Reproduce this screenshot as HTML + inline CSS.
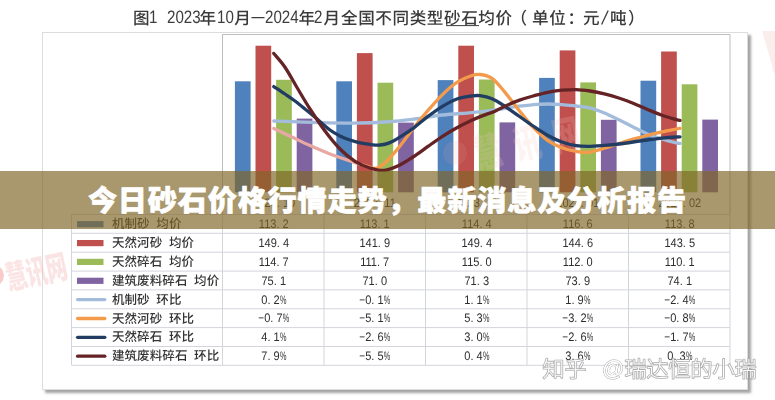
<!DOCTYPE html>
<html lang="zh-CN">
<head>
<meta charset="utf-8">
<title>今日砂石价格行情走势，最新消息及分析报告</title>
<style>
html,body{margin:0;padding:0;background:#fff}
body{width:775px;height:400px;position:relative;overflow:hidden;font-family:"Liberation Sans",sans-serif;text-rendering:geometricPrecision;-webkit-font-smoothing:antialiased}
#frame{position:absolute;left:41.5px;top:32px;width:704px;height:355.5px;border:1px solid #dddddd;background:#fff;box-shadow:2.5px 2.5px 2.5px rgba(0,0,0,.36)}
svg{position:absolute;left:0;top:0;overflow:hidden}
svg text{font-family:"Liberation Sans","Noto Sans CJK SC",sans-serif}
#under{position:absolute;left:0;top:0;width:775px;height:400px;filter:blur(.42px)}
.n{position:absolute;width:101.5px;height:18px;line-height:18px;text-align:center;font-size:12.4px;color:#2e2e2e;white-space:pre;transform:scaleX(.89)}
.t{position:absolute;top:6.8px;height:20px;line-height:20px;font-size:18px;color:#3d3d3d;white-space:pre;transform-origin:0 0;transform:scaleX(.84)}
.n i{display:inline-block;font-style:normal}.p{transform:scaleX(.66);margin:0 -1.9px}.m{transform:scaleX(.9);margin:0 -.4px}
#band{position:absolute;left:0;top:171px;width:775px;height:57.5px;background:rgba(128,101,40,.68)}
#at{position:absolute;left:602px;top:357px;font-size:22px;line-height:24px;color:#fff;-webkit-text-stroke:.9px rgba(138,138,138,.75);paint-order:stroke fill;filter:blur(.35px)}
</style>
</head>
<body>
<div id="under">
<div id="frame"></div>
<svg width="775" height="400" viewBox="0 0 775 400">
<defs>
<filter id="sb" x="-5%" y="-20%" width="110%" height="140%"><feGaussianBlur stdDeviation=".45"/></filter>
<linearGradient id="og" gradientUnits="userSpaceOnUse" x1="273" y1="0" x2="680" y2="0"><stop offset="0" stop-color="#e7a8a6"/><stop offset=".2" stop-color="#e9a79f"/><stop offset=".26" stop-color="#f39b4b"/><stop offset="1" stop-color="#f39b4b"/></linearGradient>
</defs>
<path d="M222.5 214.5V34.5H730.0V214.5" fill="none" stroke="#bdbdbd" stroke-width="1"/>
<rect x="234.9" y="81.3" width="15.7" height="111.0" fill="#4f81bd"/>
<rect x="255.5" y="45.7" width="15.7" height="146.6" fill="#c0504d"/>
<rect x="276.1" y="79.8" width="15.7" height="112.5" fill="#9bbb59"/>
<rect x="296.7" y="118.6" width="15.7" height="73.7" fill="#8064a2"/>
<rect x="336.3" y="81.3" width="15.7" height="111.0" fill="#4f81bd"/>
<rect x="356.9" y="53.1" width="15.7" height="139.2" fill="#c0504d"/>
<rect x="377.5" y="82.7" width="15.7" height="109.6" fill="#9bbb59"/>
<rect x="398.1" y="122.6" width="15.7" height="69.7" fill="#8064a2"/>
<rect x="437.7" y="80.1" width="15.7" height="112.2" fill="#4f81bd"/>
<rect x="458.3" y="45.7" width="15.7" height="146.6" fill="#c0504d"/>
<rect x="478.9" y="79.5" width="15.7" height="112.8" fill="#9bbb59"/>
<rect x="499.5" y="122.4" width="15.7" height="69.9" fill="#8064a2"/>
<rect x="539.1" y="77.9" width="15.7" height="114.4" fill="#4f81bd"/>
<rect x="559.7" y="50.4" width="15.7" height="141.9" fill="#c0504d"/>
<rect x="580.3" y="82.4" width="15.7" height="109.9" fill="#9bbb59"/>
<rect x="600.9" y="119.8" width="15.7" height="72.5" fill="#8064a2"/>
<rect x="640.5" y="80.7" width="15.7" height="111.6" fill="#4f81bd"/>
<rect x="661.1" y="51.5" width="15.7" height="140.8" fill="#c0504d"/>
<rect x="681.7" y="84.3" width="15.7" height="108.0" fill="#9bbb59"/>
<rect x="702.3" y="119.6" width="15.7" height="72.7" fill="#8064a2"/>
<g fill="#f7c6c6" transform="translate(478 169) rotate(-12.5) scale(1 1.45)" opacity=".2"><text x="0 40 80" y="0" font-size="27" font-weight="900">慧讯网</text></g>
<circle cx="455" cy="153" r="12" fill="#f4a8a8" opacity=".12"/>
<path d="M273.8 121.0C281.5 121.3 305.6 122.3 320.0 122.6C334.4 122.9 349.2 123.1 360.0 123.0C370.8 122.9 376.0 122.6 385.0 122.0C394.0 121.4 404.2 120.4 413.8 119.2C423.3 118.0 432.9 116.1 442.5 115.0C452.1 113.9 463.1 113.4 471.3 112.6C479.6 111.8 484.1 111.4 492.0 110.3C499.9 109.2 511.9 107.1 518.8 106.2C525.6 105.3 528.3 105.1 533.1 104.7C537.9 104.3 542.7 104.0 547.5 104.0C552.3 104.0 557.1 104.3 561.9 104.6C566.7 104.9 571.6 105.5 576.2 106.0C580.9 106.5 585.3 106.6 590.0 107.8C594.7 109.0 599.6 111.0 604.4 113.0C609.2 115.0 614.0 117.5 618.8 119.8C623.5 122.1 628.3 124.6 633.1 127.0C637.9 129.4 642.7 132.0 647.5 134.0C652.3 136.0 657.1 137.5 661.9 139.0C666.7 140.5 673.2 142.1 676.2 142.8C679.3 143.5 679.4 143.3 680.0 143.4" fill="none" stroke="#a3bcdc" stroke-width="3.3" stroke-linecap="round" stroke-linejoin="round"/>
<path d="M273.8 128.4C276.8 129.8 286.0 134.1 292.0 137.0C298.0 139.9 303.7 142.8 310.0 145.6C316.3 148.4 323.3 151.4 330.0 154.0C336.7 156.6 343.7 158.9 350.0 161.0C356.3 163.1 363.6 165.4 368.0 166.6C372.4 167.8 373.8 168.7 376.5 168.2C379.2 167.7 381.6 165.7 384.0 163.8C386.4 161.9 388.4 159.4 391.0 156.6C393.6 153.8 395.6 151.6 399.4 146.8C403.2 142.0 409.0 133.9 413.8 127.8C418.5 121.7 423.2 115.9 428.0 110.4C432.8 104.9 437.7 99.3 442.5 94.6C447.3 89.9 452.1 85.5 456.9 82.4C461.7 79.3 467.4 77.1 471.3 75.8C475.2 74.5 476.6 74.1 480.0 74.5C483.4 74.9 487.9 75.6 492.0 78.4C496.1 81.2 499.9 86.3 504.4 91.6C508.9 96.9 514.0 104.1 518.8 110.0C523.5 115.9 528.3 122.2 533.1 127.2C537.9 132.2 542.7 136.9 547.5 140.3C552.3 143.7 557.1 145.8 561.9 147.7C566.7 149.5 571.9 150.6 576.2 151.4C580.6 152.2 583.3 152.9 588.0 152.4C592.7 151.9 599.3 149.7 604.4 148.2C609.5 146.7 614.0 145.1 618.8 143.6C623.5 142.1 628.3 140.6 633.1 139.2C637.9 137.8 642.7 136.5 647.5 135.3C652.3 134.1 657.1 133.0 661.9 131.9C666.7 130.8 673.2 129.6 676.2 129.0C679.3 128.4 679.4 128.5 680.0 128.4" fill="none" stroke="url(#og)" stroke-width="3.3" stroke-linecap="round" stroke-linejoin="round"/>
<path d="M273.8 86.6C275.6 87.8 281.5 91.6 285.0 94.0C288.5 96.4 291.7 98.5 295.0 101.0C298.3 103.5 301.7 106.3 305.0 109.0C308.3 111.7 310.8 113.7 315.0 117.2C319.2 120.7 325.8 126.9 330.0 130.0C334.2 133.1 336.7 134.3 340.0 136.0C343.3 137.7 346.7 138.9 350.0 140.0C353.3 141.1 356.7 142.1 360.0 142.8C363.3 143.5 366.7 144.0 370.0 144.4C373.3 144.8 376.7 145.3 380.0 145.0C383.3 144.7 386.8 143.9 390.0 142.6C393.2 141.3 395.4 139.9 399.4 137.4C403.4 134.9 409.0 131.3 413.8 127.8C418.5 124.3 423.2 120.0 428.0 116.4C432.8 112.8 437.7 109.2 442.5 106.3C447.3 103.4 452.1 100.7 456.9 99.0C461.7 97.3 467.4 96.5 471.3 96.0C475.2 95.5 476.6 95.2 480.0 95.7C483.4 96.2 487.9 97.1 492.0 98.8C496.1 100.5 499.9 103.1 504.4 106.0C508.9 108.9 514.0 112.7 518.8 116.0C523.5 119.3 528.3 122.8 533.1 126.0C537.9 129.2 542.7 132.5 547.5 135.2C552.3 137.9 557.1 140.2 561.9 142.0C566.7 143.8 571.9 145.0 576.2 145.7C580.6 146.4 583.3 146.4 588.0 146.4C592.7 146.4 599.3 145.8 604.4 145.4C609.5 145.0 614.0 144.6 618.8 144.0C623.5 143.4 628.3 142.7 633.1 142.0C637.9 141.3 642.7 140.6 647.5 140.0C652.3 139.4 657.1 138.7 661.9 138.2C666.7 137.7 673.2 137.2 676.2 137.0C679.3 136.8 679.4 136.8 680.0 136.8" fill="none" stroke="#213d63" stroke-width="3.3" stroke-linecap="round" stroke-linejoin="round"/>
<path d="M273.8 53.4C275.6 55.7 281.1 61.5 285.0 67.2C288.9 72.9 292.8 80.5 297.0 87.5C301.2 94.5 305.3 101.8 310.0 109.0C314.7 116.2 320.0 124.3 325.0 131.0C330.0 137.7 335.0 143.9 340.0 149.0C345.0 154.1 350.0 158.1 355.0 161.3C360.0 164.5 365.2 166.5 370.0 168.0C374.8 169.5 379.1 170.9 384.0 170.4C388.9 169.9 394.4 167.5 399.4 165.2C404.4 162.9 409.0 159.6 413.8 156.5C418.5 153.4 423.2 149.8 428.0 146.4C432.8 143.0 437.7 139.4 442.5 136.3C447.3 133.2 452.1 130.3 456.9 127.7C461.7 125.0 466.5 122.6 471.3 120.4C476.1 118.2 481.7 116.1 485.6 114.6C489.6 113.1 491.9 112.6 495.0 111.2C498.1 109.8 500.4 108.2 504.4 106.4C508.4 104.6 514.0 102.1 518.8 100.4C523.5 98.7 528.3 97.3 533.1 96.0C537.9 94.7 542.7 93.3 547.5 92.3C552.3 91.3 557.1 90.7 561.9 90.2C566.7 89.8 571.6 89.5 576.2 89.6C580.9 89.7 585.3 90.3 590.0 91.0C594.7 91.7 599.6 92.7 604.4 93.9C609.2 95.1 614.0 96.5 618.8 98.0C623.5 99.5 628.3 101.3 633.1 103.2C637.9 105.1 642.7 107.4 647.5 109.4C652.3 111.4 657.1 113.5 661.9 115.2C666.7 116.9 673.2 118.7 676.2 119.6C679.3 120.5 679.4 120.3 680.0 120.4" fill="none" stroke="#652325" stroke-width="3.3" stroke-linecap="round" stroke-linejoin="round"/>
<path d="M71.5 214.5H730.0M71.5 233.3H730.0M71.5 252.2H730.0M71.5 271.1H730.0M71.5 289.9H730.0M71.5 308.8H730.0M71.5 327.6H730.0M71.5 346.5H730.0M71.5 365.3H730.0M71.5 214.5V365.3M222.5 214.5V365.3M324.0 196.7V365.3M425.5 196.7V365.3M527.0 196.7V365.3M628.5 196.7V365.3M730.0 214.5V365.3" fill="none" stroke="#d3d5dc" stroke-width="1"/>
<rect x="77" y="221.1" width="26.5" height="6.2" fill="#4f81bd"/>
<text fill="#333" font-size="12.5" font-weight="500" y="228.33" x="111.9 124.5 137.1 156.3 168.9">机制砂均价</text>
<rect x="77" y="240.0" width="26.5" height="6.2" fill="#c0504d"/>
<text fill="#333" font-size="12.5" font-weight="500" y="247.18" x="111.9 124.5 137.1 149.7 168.9 181.5">天然河砂均价</text>
<rect x="77" y="258.8" width="26.5" height="6.2" fill="#9bbb59"/>
<text fill="#333" font-size="12.5" font-weight="500" y="266.03" x="111.9 124.5 137.1 149.7 168.9 181.5">天然碎石均价</text>
<rect x="77" y="277.7" width="26.5" height="6.2" fill="#8064a2"/>
<text fill="#333" font-size="12.5" font-weight="500" y="284.88" x="111.9 124.5 137.1 149.7 162.3 174.9 194.1 206.7">建筑废料碎石均价</text>
<path d="M77.6 299.6H104.8" stroke="#a3bcdc" stroke-width="3.3" stroke-linecap="round"/>
<text fill="#333" font-size="12.5" font-weight="500" y="303.73" x="111.9 124.5 137.1 156.3 168.9">机制砂环比</text>
<path d="M77.6 318.5H104.8" stroke="#f39b4b" stroke-width="3.3" stroke-linecap="round"/>
<text fill="#333" font-size="12.5" font-weight="500" y="322.58" x="111.9 124.5 137.1 149.7 168.9 181.5">天然河砂环比</text>
<path d="M77.6 337.3H104.8" stroke="#213d63" stroke-width="3.3" stroke-linecap="round"/>
<text fill="#333" font-size="12.5" font-weight="500" y="341.43" x="111.9 124.5 137.1 149.7 168.9 181.5">天然碎石环比</text>
<path d="M77.6 356.2H104.8" stroke="#652325" stroke-width="3.3" stroke-linecap="round"/>
<text fill="#333" font-size="12.5" font-weight="500" y="360.28" x="111.9 124.5 137.1 149.7 162.3 174.9 194.1 206.7">建筑废料碎石环比</text>
<g fill="#3a3a3a" font-size="16.6" font-weight="500">
<text x="133" y="23.6">图</text>
<text x="199.6" y="23.6">年</text>
<text x="234.2" y="23.6">月</text>
<text x="298.4" y="23.6">年</text>
<text x="323.6" y="23.6">月</text>
<text y="23.6" x="341 358.17 375.34 392.51 409.68 426.85 444.02 461.19 478.36 495.53">全国不同类型砂石均价</text>
<text x="510.5" y="23.6">（</text>
<text y="23.6" x="532 549.17">单位</text>
<text x="567.5" y="23.6">：</text>
<text x="583" y="23.6">元</text>
<text x="610" y="23.6">吨</text>
<text x="628" y="23.6">）</text>
</g>
<path d="M251.5 17.6H264.5M601.6 24.6L608.2 10.4" stroke="#3d3d3d" stroke-width="1.3"/>
<path d="M446 25.6H479" stroke="#3d3d3d" stroke-width="1"/>
<g fill="#f3b4b4" transform="translate(8.6 290) rotate(-12) scale(.97 1.52)" opacity=".36"><text x="0 21.2 42.4" y="0" font-size="21.5" font-weight="900">慧讯网</text></g>
<circle cx="-6.5" cy="275.5" r="10.5" fill="#f08a8a" opacity=".45"/>
<path d="M762 31L775 31L775 76Z" fill="#f7d4d4" opacity=".42"/>
</svg>
<span class="t" style="left:149.0px">1</span>
<span class="t" style="left:166.6px">2023</span>
<span class="t" style="left:216.6px">10</span>
<span class="t" style="left:264.7px">2024</span>
<span class="t" style="left:314.4px">2</span>
<span class="n" style="left:222.5px;top:215.1px">113. 2</span>
<span class="n" style="left:324.0px;top:215.1px">113. 1</span>
<span class="n" style="left:425.5px;top:215.1px">114. 4</span>
<span class="n" style="left:527.0px;top:215.1px">116. 6</span>
<span class="n" style="left:628.5px;top:215.1px">113. 8</span>
<span class="n" style="left:222.5px;top:234.0px">149. 4</span>
<span class="n" style="left:324.0px;top:234.0px">141. 9</span>
<span class="n" style="left:425.5px;top:234.0px">149. 4</span>
<span class="n" style="left:527.0px;top:234.0px">144. 6</span>
<span class="n" style="left:628.5px;top:234.0px">143. 5</span>
<span class="n" style="left:222.5px;top:252.8px">114. 7</span>
<span class="n" style="left:324.0px;top:252.8px">111. 7</span>
<span class="n" style="left:425.5px;top:252.8px">115. 0</span>
<span class="n" style="left:527.0px;top:252.8px">112. 0</span>
<span class="n" style="left:628.5px;top:252.8px">110. 1</span>
<span class="n" style="left:222.5px;top:271.7px">75. 1</span>
<span class="n" style="left:324.0px;top:271.7px">71. 0</span>
<span class="n" style="left:425.5px;top:271.7px">71. 3</span>
<span class="n" style="left:527.0px;top:271.7px">73. 9</span>
<span class="n" style="left:628.5px;top:271.7px">74. 1</span>
<span class="n" style="left:222.5px;top:290.5px">0. 2<i class="p">%</i></span>
<span class="n" style="left:324.0px;top:290.5px"><i class="m">−</i>0. 1<i class="p">%</i></span>
<span class="n" style="left:425.5px;top:290.5px">1. 1<i class="p">%</i></span>
<span class="n" style="left:527.0px;top:290.5px">1. 9<i class="p">%</i></span>
<span class="n" style="left:628.5px;top:290.5px"><i class="m">−</i>2. 4<i class="p">%</i></span>
<span class="n" style="left:222.5px;top:309.4px"><i class="m">−</i>0. 7<i class="p">%</i></span>
<span class="n" style="left:324.0px;top:309.4px"><i class="m">−</i>5. 1<i class="p">%</i></span>
<span class="n" style="left:425.5px;top:309.4px">5. 3<i class="p">%</i></span>
<span class="n" style="left:527.0px;top:309.4px"><i class="m">−</i>3. 2<i class="p">%</i></span>
<span class="n" style="left:628.5px;top:309.4px"><i class="m">−</i>0. 8<i class="p">%</i></span>
<span class="n" style="left:222.5px;top:328.2px">4. 1<i class="p">%</i></span>
<span class="n" style="left:324.0px;top:328.2px"><i class="m">−</i>2. 6<i class="p">%</i></span>
<span class="n" style="left:425.5px;top:328.2px">3. 0<i class="p">%</i></span>
<span class="n" style="left:527.0px;top:328.2px"><i class="m">−</i>2. 6<i class="p">%</i></span>
<span class="n" style="left:628.5px;top:328.2px"><i class="m">−</i>1. 7<i class="p">%</i></span>
<span class="n" style="left:222.5px;top:347.1px">7. 9<i class="p">%</i></span>
<span class="n" style="left:324.0px;top:347.1px"><i class="m">−</i>5. 5<i class="p">%</i></span>
<span class="n" style="left:425.5px;top:347.1px">0. 4<i class="p">%</i></span>
<span class="n" style="left:527.0px;top:347.1px">3. 6<i class="p">%</i></span>
<span class="n" style="left:628.5px;top:347.1px">0. 3<i class="p">%</i></span>
<span class="n" style="left:222.5px;top:193.5px">2023. 10</span>
<span class="n" style="left:324.0px;top:193.5px">2023. 11</span>
<span class="n" style="left:425.5px;top:193.5px">2023. 12</span>
<span class="n" style="left:527.0px;top:193.5px">2024. 01</span>
<span class="n" style="left:628.5px;top:193.5px">2024. 02</span>
</div>
<div id="band"></div>
<svg width="775" height="400" viewBox="0 0 775 400" role="img" aria-label="今日砂石价格行情走势，最新消息及分析报告">
<text fill="#fff" stroke="#fff" stroke-width=".64" stroke-linejoin="round" font-size="29.2" font-weight="900" y="210.8" x="87.9 117.85 147.8 177.75 207.7 237.65 267.6 297.55 327.5 357.45 387.4 417.35 447.3 477.25 507.2 537.15 567.1 597.05 627 656.95">今日砂石价格行情走势，最新消息及分析报告</text>
<text fill="#fff" stroke="#969696" stroke-opacity=".78" filter="url(#sb)" stroke-width="1.7" paint-order="stroke" stroke-linejoin="round" font-size="22" font-weight="300" y="377.3" x="542.5 564.5">知乎</text>
<text fill="#fff" stroke="#969696" stroke-opacity=".78" filter="url(#sb)" stroke-width="1.7" paint-order="stroke" stroke-linejoin="round" font-size="22" font-weight="300" y="377.3" x="624.5 646.5 668.5 690.5 712.5 734.5">瑞达恒的小瑞</text>
</svg>
<span id="at">@</span>
</body>
</html>
